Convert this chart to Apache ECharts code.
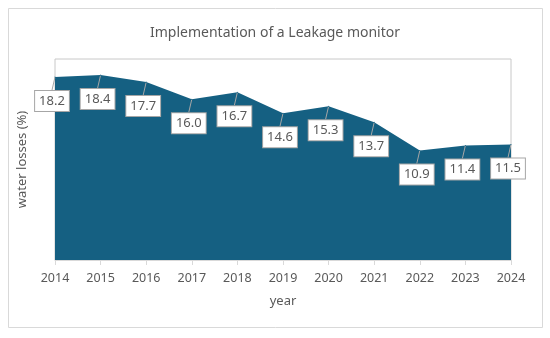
<!DOCTYPE html>
<html>
<head>
<meta charset="utf-8">
<script src="https://cdn.jsdelivr.net/npm/echarts@6/dist/echarts.min.js"></script>
<style>
html,body{margin:0;padding:0;background:#fff;}
#chart{width:550px;height:338px;}
</style>
</head>
<body>
<div id="chart"></div>
<script>
var years = ['2014','2015','2016','2017','2018','2019','2020','2021','2022','2023','2024'];
var waterLosses = [18.2, 18.4, 17.7, 16.0, 16.7, 14.6, 15.3, 13.7, 10.9, 11.4, 11.5];
var titleText = 'Implementation of a Leakage monitor';
var xName = 'year';
var yName = 'water losses (%)';

var FONT = '"Noto Sans", "Open Sans", sans-serif';
var chart = echarts.init(document.getElementById('chart'), null, {renderer: 'canvas'});
chart.setOption({
  backgroundColor: '#ffffff',
  animation: false,
  title: {
    text: titleText,
    left: 'center',
    top: 21,
    textStyle: {color: '#595959', fontSize: 14, fontWeight: 'normal', fontFamily: FONT}
  },
  graphic: [{
    type: 'rect',
    shape: {x: 8.5, y: 8.5, width: 534, height: 319},
    style: {fill: 'none', stroke: '#d9d9d9', lineWidth: 1},
    silent: true
  }],
  grid: {
    left: 55, right: 39, top: 59, bottom: 78,
    show: true, borderColor: '#c8c8c8', borderWidth: 1, backgroundColor: 'transparent'
  },
  xAxis: {
    type: 'category',
    data: years,
    boundaryGap: false,
    name: xName,
    nameLocation: 'middle',
    nameGap: 35,
    nameTextStyle: {color: '#595959', fontSize: 13, fontFamily: FONT},
    axisLine: {show: true, lineStyle: {color: '#d9d9d9'}},
    axisTick: {show: true, length: 5, lineStyle: {color: '#d9d9d9'}},
    axisLabel: {color: '#595959', fontSize: 12.5, margin: 12, fontFamily: FONT}
  },
  yAxis: {
    type: 'value',
    min: 0, max: 20,
    name: yName,
    nameLocation: 'middle',
    nameGap: 26,
    nameTextStyle: {color: '#595959', fontSize: 13, fontFamily: FONT},
    axisLine: {show: false},
    axisTick: {show: false},
    axisLabel: {show: false},
    splitLine: {show: false}
  },
  series: [{
    type: 'line',
    data: waterLosses,
    symbol: 'circle',
    symbolSize: 1,
    showSymbol: true,
    lineStyle: {width: 0, color: '#156082'},
    itemStyle: {color: '#156082'},
    areaStyle: {color: '#156082', opacity: 1},
    label: {
      show: true,
      position: 'inside',
      formatter: function (p) { return p.value.toFixed(1); },
      color: '#595959',
      fontSize: 13,
      fontFamily: FONT,
      backgroundColor: '#ffffff',
      borderColor: '#a6a6a6',
      borderWidth: 1,
      padding: [4, 4, 3, 4]
    },
    labelLayout: {dx: -3, dy: 24},
    labelLine: {show: true, lineStyle: {color: '#a6a6a6', width: 1}}
  }]
});
</script>
</body>
</html>
